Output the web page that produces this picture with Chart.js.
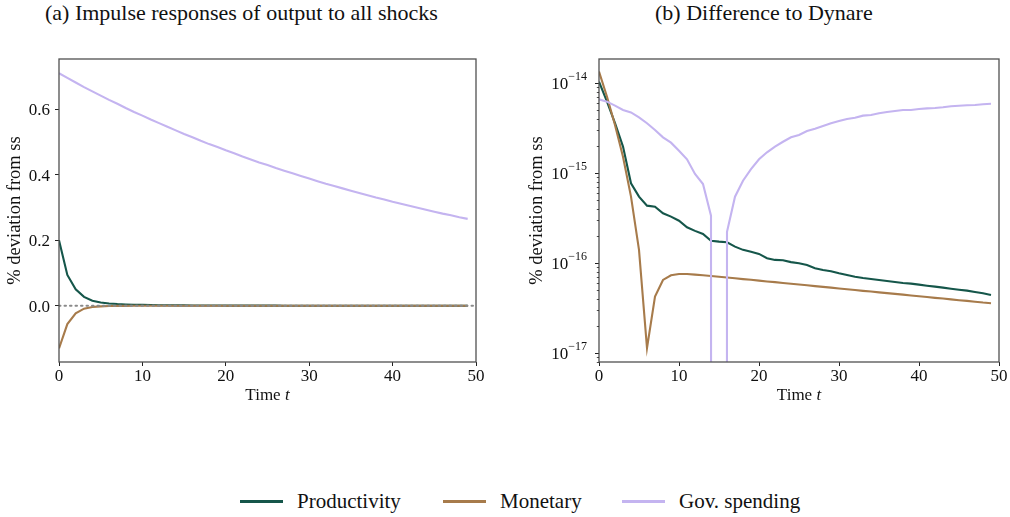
<!DOCTYPE html>
<html>
<head>
<meta charset="utf-8">
<script src="https://cdn.jsdelivr.net/npm/chart.js@4.4.1/dist/chart.umd.min.js"></script>
<style>
  body { margin: 0; background: #fff; width: 1010px; height: 517px; position: relative; overflow: hidden;
         font-family: "Liberation Serif", "Times New Roman", serif; color: #111; }
  .panel { position: absolute; top: 0; }
  .title { position: absolute; top: 2px; font-size: 22px; line-height: 22px; white-space: nowrap; }
  .legend-line { position: absolute; top: 500px; height: 2.5px; width: 43px; }
  .legend-text { position: absolute; top: 491px; font-size: 21px; line-height: 20px; white-space: nowrap; }
</style>
</head>
<body>
<div class="title" style="left:45px">(a) Impulse responses of output to all shocks</div>
<div class="title" style="left:655px">(b) Difference to Dynare</div>
<div class="panel" style="left:0"><canvas id="irfChart" width="500" height="420"></canvas></div>
<div class="panel" style="left:522px"><canvas id="diffChart" width="488" height="420"></canvas></div>
<div id="legend"></div>

<script>
// Horizon (periods after the shock)
const time = [0, 1, 2, 3, 4, 5, 6, 7, 8, 9, 10, 11, 12, 13, 14, 15, 16, 17, 18, 19,
              20, 21, 22, 23, 24, 25, 26, 27, 28, 29, 30, 31, 32, 33, 34, 35, 36, 37, 38, 39,
              40, 41, 42, 43, 44, 45, 46, 47, 48, 49];

const seriesNames = ['Productivity', 'Monetary', 'Gov. spending'];

// (a) impulse responses of output, % deviation from steady state
const irfProductivity = [0.200, 0.094, 0.050, 0.027, 0.015, 0.010, 0.0070, 0.0052, 0.0040, 0.0032,
                         0.0026, 0.0021, 0.0017, 0.0014, 0.0012, 0.0010, 0.0009, 0.0008, 0.0007, 0.0006,
                         0.0005, 0.0005, 0.0004, 0.0004, 0.0003, 0.0003, 0.0003, 0.0002, 0.0002, 0.0002,
                         0.0002, 0.0002, 0.0001, 0.0001, 0.0001, 0.0001, 0.0001, 0.0001, 0.0001, 0.0001,
                         0.0001, 0.0001, 0.0001, 0.0001, 0.0001, 0.0001, 0.0001, 0.0001, 0.0001, 0.0001];
const irfMonetary = [-0.130, -0.056, -0.023, -0.009, -0.004, -0.0018, -0.0009, -0.0005, -0.0003, -0.0002,
                     -0.0001, -0.0001, -0.0001, -0.0001, -0.0001, 0, 0, 0, 0, 0,
                     0, 0, 0, 0, 0, 0, 0, 0, 0, 0,
                     0, 0, 0, 0, 0, 0, 0, 0, 0, 0,
                     0, 0, 0, 0, 0, 0, 0, 0, 0, 0];
const irfGovSpending = [0.709, 0.695, 0.681, 0.667, 0.654, 0.641, 0.628, 0.616, 0.603, 0.591,
                        0.580, 0.568, 0.557, 0.546, 0.535, 0.524, 0.514, 0.503, 0.493, 0.484,
                        0.474, 0.465, 0.455, 0.446, 0.437, 0.429, 0.420, 0.412, 0.404, 0.396,
                        0.388, 0.380, 0.372, 0.365, 0.358, 0.351, 0.344, 0.337, 0.330, 0.324,
                        0.317, 0.311, 0.305, 0.299, 0.293, 0.287, 0.281, 0.276, 0.270, 0.265];

// (b) absolute difference to the Dynare solution
const diffProductivity = [1.04e-14, 6.25e-15, 3.60e-15, 1.98e-15, 7.74e-16, 5.50e-16, 4.37e-16, 4.26e-16, 3.60e-16, 3.30e-16,
                          2.97e-16, 2.51e-16, 2.29e-16, 2.12e-16, 1.78e-16, 1.74e-16, 1.71e-16, 1.53e-16, 1.41e-16, 1.34e-16,
                          1.27e-16, 1.14e-16, 1.09e-16, 1.08e-16, 1.03e-16, 1.00e-16, 9.57e-17, 8.79e-17, 8.43e-17, 8.15e-17,
                          7.74e-17, 7.41e-17, 7.10e-17, 6.87e-17, 6.70e-17, 6.53e-17, 6.35e-17, 6.19e-17, 6.04e-17, 5.94e-17,
                          5.79e-17, 5.64e-17, 5.50e-17, 5.36e-17, 5.22e-17, 5.09e-17, 4.97e-17, 4.80e-17, 4.65e-17, 4.45e-17];
const diffMonetary = [1.35e-14, 7.10e-15, 3.44e-15, 1.53e-15, 5.50e-16, 1.41e-16, 1.14e-17, 4.26e-17, 6.53e-17, 7.36e-17,
                      7.60e-17, 7.60e-17, 7.48e-17, 7.36e-17, 7.23e-17, 7.08e-17, 6.95e-17, 6.81e-17, 6.67e-17, 6.55e-17,
                      6.41e-17, 6.28e-17, 6.17e-17, 6.04e-17, 5.92e-17, 5.81e-17, 5.69e-17, 5.57e-17, 5.47e-17, 5.36e-17,
                      5.25e-17, 5.15e-17, 5.05e-17, 4.94e-17, 4.85e-17, 4.75e-17, 4.66e-17, 4.57e-17, 4.48e-17, 4.39e-17,
                      4.31e-17, 4.22e-17, 4.13e-17, 4.06e-17, 3.97e-17, 3.89e-17, 3.82e-17, 3.74e-17, 3.66e-17, 3.60e-17];
const diffGovSpending = [6.64e-15, 6.25e-15, 5.64e-15, 5.05e-15, 4.75e-15, 4.19e-15, 3.60e-15, 3.03e-15, 2.51e-15, 2.19e-15,
                         1.78e-15, 1.43e-15, 9.82e-16, 7.60e-16, 3.38e-16, 0, 2.24e-16, 5.50e-16, 8.28e-16, 1.11e-15,
                         1.43e-15, 1.71e-15, 1.98e-15, 2.24e-15, 2.51e-15, 2.67e-15, 2.95e-15, 3.13e-15, 3.36e-15, 3.60e-15,
                         3.81e-15, 4.01e-15, 4.15e-15, 4.37e-15, 4.45e-15, 4.65e-15, 4.80e-15, 4.92e-15, 5.05e-15, 5.05e-15,
                         5.18e-15, 5.27e-15, 5.32e-15, 5.41e-15, 5.55e-15, 5.64e-15, 5.70e-15, 5.74e-15, 5.85e-15, 5.93e-15];

// Tick labels
const timeTicks = [0, 10, 20, 30, 40, 50];
const irfTicks = [0.0, 0.2, 0.4, 0.6];
const logDecades = [-17, -16, -15, -14];
const yAxisTitle = '% deviation from ss';

// Styling
const seriesColors = ['#15564a', '#a77b4b', '#c4b4f0'];
const textColor = '#111';
const spineColor = '#505050';
const serif = "'Liberation Serif', serif";

Chart.defaults.animation = false;
Chart.defaults.devicePixelRatio = 1;

function lineSet(i, data) {
  return {
    label: seriesNames[i], data,
    borderColor: seriesColors[i], borderWidth: 2.1,
    pointRadius: 0, tension: 0, fill: false,
    order: 2 - i
  };
}

// Chart.js draws the tick marks, the labels are written by the plugins below
const tickGrid = { drawOnChartArea: false, tickLength: 4, tickColor: '#222', tickWidth: 1 };

function timeAxis() {
  return {
    type: 'linear', min: 0, max: 50,
    afterBuildTicks: s => { s.ticks = timeTicks.map(v => ({ value: v })); },
    ticks: { callback: () => '', maxRotation: 0, autoSkip: false },
    grid: tickGrid,
    border: { display: false },
    afterFit: s => { s.height = 48; }
  };
}

// Box around the plot area, x tick labels, "Time t" and the y-axis title
const framePlugin = {
  id: 'frame',
  afterDraw(chart) {
    const { ctx, chartArea: a } = chart;
    const x = chart.scales.x;
    ctx.save();
    ctx.strokeStyle = spineColor;
    ctx.lineWidth = 1.3;
    ctx.strokeRect(a.left, a.top, a.right - a.left, a.bottom - a.top);

    ctx.fillStyle = textColor;
    ctx.textBaseline = 'alphabetic';
    ctx.font = '17px ' + serif;
    ctx.textAlign = 'center';
    timeTicks.forEach(v => ctx.fillText(String(v), x.getPixelForValue(v), a.bottom + 18.5));

    const cx = (a.left + a.right) / 2;
    ctx.textAlign = 'left';
    const w1 = ctx.measureText('Time ').width;
    ctx.font = 'italic 17px ' + serif;
    const w2 = ctx.measureText('t').width;
    const x0 = cx - (w1 + w2) / 2;
    ctx.font = '17px ' + serif;
    ctx.fillText('Time ', x0, a.bottom + 38);
    ctx.font = 'italic 17px ' + serif;
    ctx.fillText('t', x0 + w1, a.bottom + 38);

    ctx.font = '18.5px ' + serif;
    ctx.textAlign = 'center';
    ctx.translate(20, (a.top + a.bottom) / 2);
    ctx.rotate(-Math.PI / 2);
    ctx.fillText(yAxisTitle, 0, 0);
    ctx.restore();
  }
};

// Plain decimal labels for panel (a)
const linearLabelPlugin = {
  id: 'linearLabels',
  afterDraw(chart) {
    const { ctx, chartArea: a } = chart;
    const y = chart.scales.y;
    ctx.save();
    ctx.fillStyle = textColor;
    ctx.font = '17px ' + serif;
    ctx.textAlign = 'right';
    ctx.textBaseline = 'alphabetic';
    irfTicks.forEach(v => ctx.fillText(v.toFixed(1), a.left - 9, y.getPixelForValue(v) + 6));
    ctx.restore();
  }
};

// Power-of-ten labels and minor ticks on the log axis
const logLabelPlugin = {
  id: 'logLabels',
  afterDraw(chart) {
    const { ctx, chartArea: a } = chart;
    const y = chart.scales.y;
    ctx.save();
    ctx.strokeStyle = '#222';
    ctx.lineWidth = 0.8;
    for (let d = -18; d <= -14; d++) {
      for (let k = 2; k <= 9; k++) {
        const v = k * Math.pow(10, d);
        if (v < y.min || v > y.max) continue;
        const py = Math.round(y.getPixelForValue(v)) + 0.5;
        ctx.beginPath();
        ctx.moveTo(a.left, py);
        ctx.lineTo(a.left - 2.2, py);
        ctx.stroke();
      }
    }
    ctx.fillStyle = textColor;
    ctx.textBaseline = 'alphabetic';
    ctx.textAlign = 'left';
    logDecades.forEach(d => {
      const py = y.getPixelForValue(Math.pow(10, d));
      const exp = '\u2212' + Math.abs(d);
      ctx.font = '12px ' + serif;
      const we = ctx.measureText(exp).width;
      ctx.font = '17px ' + serif;
      const wb = ctx.measureText('10').width;
      const right = a.left - 12;
      ctx.fillText('10', right - we - wb, py + 6);
      ctx.font = '12px ' + serif;
      ctx.fillText(exp, right - we, py - 3.5);
    });
    ctx.restore();
  }
};

function drawCharts() {
  // (a) impulse responses
  new Chart(document.getElementById('irfChart'), {
    type: 'line',
    data: {
      labels: time,
      datasets: [
        lineSet(0, irfProductivity),
        lineSet(1, irfMonetary),
        lineSet(2, irfGovSpending),
        {
          label: 'steady state', data: [{ x: 0, y: 0 }, { x: 50, y: 0 }],
          borderColor: '#8a8a8a', borderWidth: 2, borderDash: [1.5, 4], borderCapStyle: 'round',
          pointRadius: 0, order: -1
        }
      ]
    },
    options: {
      responsive: false,
      layout: { padding: { top: 59, right: 24, bottom: 10, left: 0 } },
      plugins: { legend: { display: false }, tooltip: { enabled: false } },
      scales: {
        x: timeAxis(),
        y: {
          type: 'linear', min: -0.1716, max: 0.7526,
          afterBuildTicks: s => { s.ticks = irfTicks.map(v => ({ value: v })); },
          ticks: { callback: () => '' },
          grid: tickGrid,
          border: { display: false },
          afterFit: s => { s.width = 59; }
        }
      }
    },
    plugins: [framePlugin, linearLabelPlugin]
  });

  // (b) difference to Dynare, log scale; exact zeros are pushed far below the axis
  const belowAxis = v => (v > 0 ? v : 1e-300);
  new Chart(document.getElementById('diffChart'), {
    type: 'line',
    data: {
      labels: time,
      datasets: [
        lineSet(0, diffProductivity.map(belowAxis)),
        lineSet(1, diffMonetary.map(belowAxis)),
        lineSet(2, diffGovSpending.map(belowAxis))
      ]
    },
    options: {
      responsive: false,
      layout: { padding: { top: 59, right: 11, bottom: 10, left: 0 } },
      plugins: { legend: { display: false }, tooltip: { enabled: false } },
      scales: {
        x: timeAxis(),
        y: {
          type: 'logarithmic', min: 8.0e-18, max: 1.862e-14,
          afterBuildTicks: s => { s.ticks = logDecades.map(d => ({ value: Math.pow(10, d) })); },
          ticks: { callback: () => '' },
          grid: tickGrid,
          border: { display: false },
          afterFit: s => { s.width = 77; }
        }
      }
    },
    plugins: [framePlugin, logLabelPlugin]
  });
}

// Legend below both panels
const legendLeft = [240, 443, 622];
const legend = document.getElementById('legend');
seriesNames.forEach((name, i) => {
  const line = document.createElement('div');
  line.className = 'legend-line';
  line.style.left = legendLeft[i] + 'px';
  line.style.background = seriesColors[i];
  const text = document.createElement('div');
  text.className = 'legend-text';
  text.style.left = (legendLeft[i] + 57) + 'px';
  text.textContent = name;
  legend.appendChild(line);
  legend.appendChild(text);
});

document.fonts.load("17px 'Liberation Serif'").then(drawCharts, drawCharts);
</script>
</body>
</html>
